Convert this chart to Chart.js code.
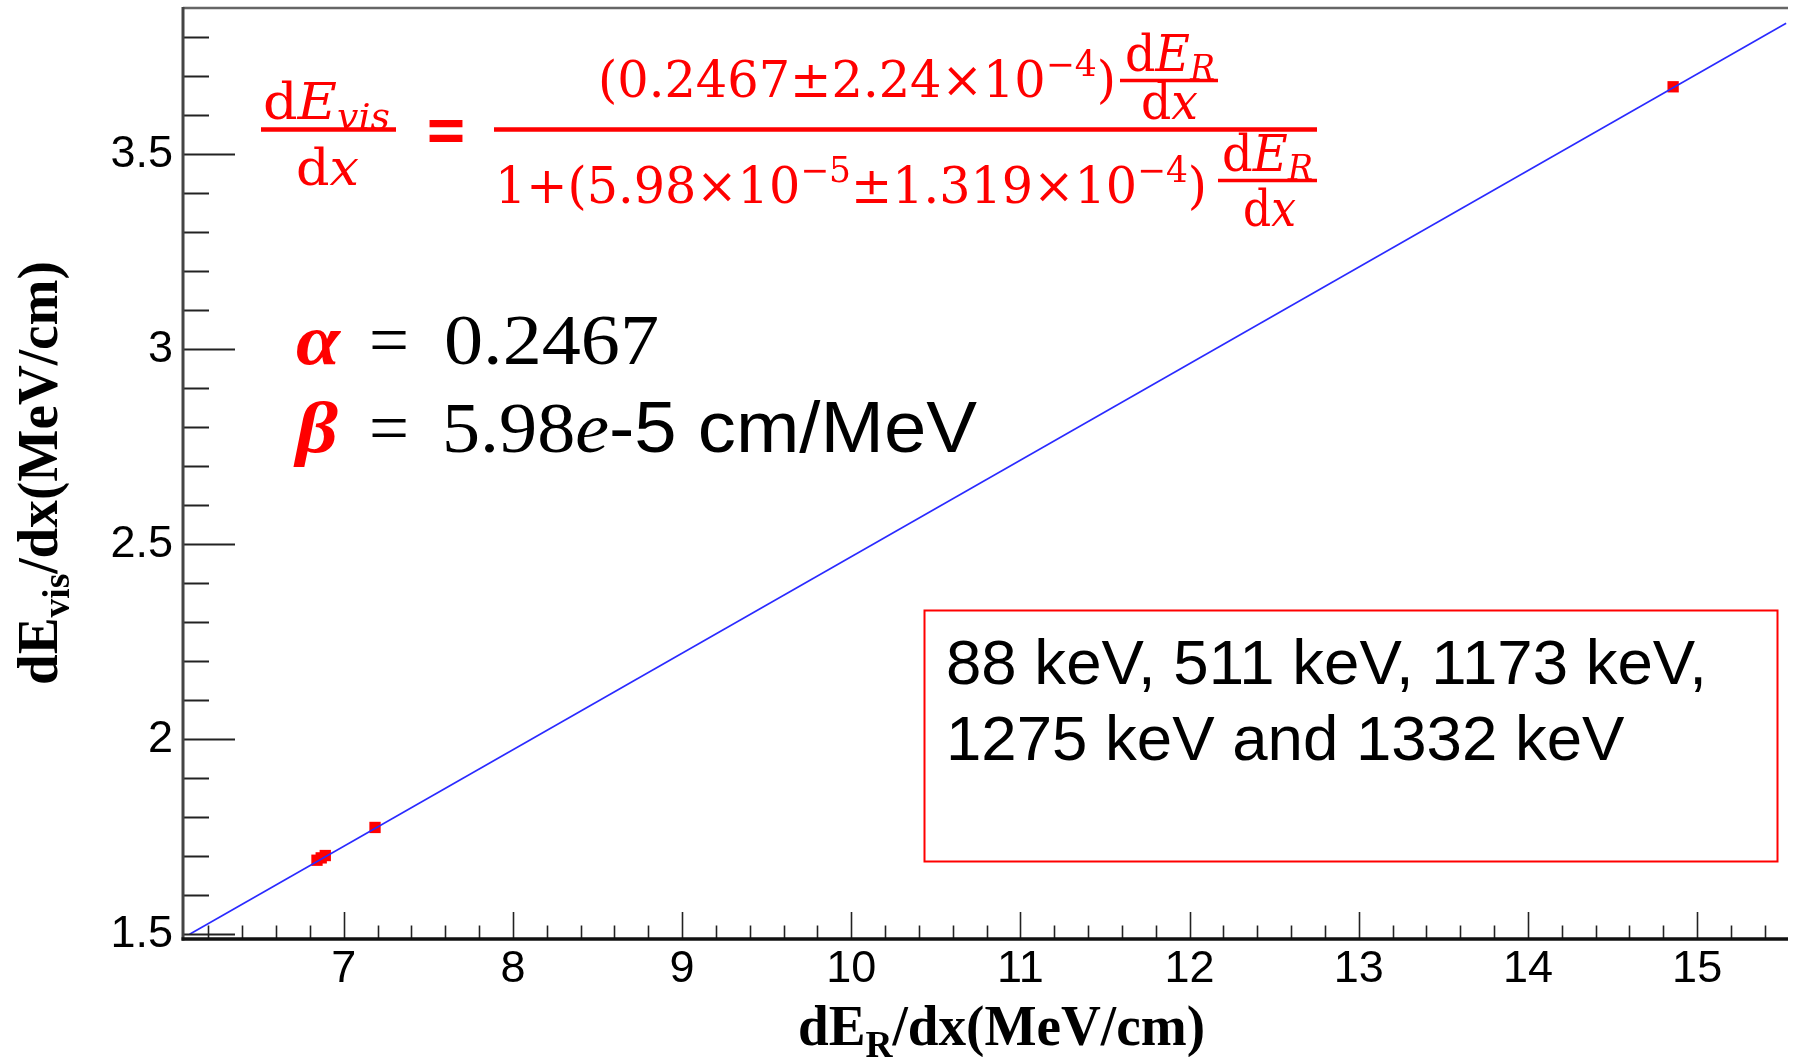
<!DOCTYPE html>
<html>
<head>
<meta charset="utf-8">
<title>Birks fit: dE_vis/dx vs dE_R/dx</title>
<script src="https://cdn.jsdelivr.net/npm/chart.js@4.4.1/dist/chart.umd.min.js"></script>
<style>
  html, body { margin: 0; padding: 0; background: #ffffff; overflow: hidden; }
  #wrap { position: relative; width: 1796px; height: 1057px; }
  canvas { display: block; }
</style>
</head>
<body>
<div id="wrap"><canvas id="chart" width="1796" height="1057"></canvas></div>
<script>
// Calibration sources and their measured stopping powers (MeV/cm)
const sourceEnergiesKeV = [88, 511, 1173, 1275, 1332];
const dEdxRange = [14.858, 7.185, 6.891, 6.867, 6.842];
const dEdxVisible = [3.673, 1.774, 1.702, 1.696, 1.690];

// Fitted curve, drawn across the plotted range
const fitX = [6.089, 15.526];
const fitY = [1.500, 3.836];

// Axis ranges and ticks
const xRange = [6.050, 15.537];
const yRange = [1.488, 3.875];
const xMajorTicks = [7, 8, 9, 10, 11, 12, 13, 14, 15];
const yMajorTicks = [1.5, 2, 2.5, 3, 3.5];
const xMinorStep = 0.2;
const yMinorStep = 0.1;

const SERIF = '"Liberation Serif", "DejaVu Serif", serif';
const MATH = '"DejaVu Serif", "Liberation Serif", serif';
const SANS = '"Liberation Sans", Arial, "DejaVu Sans", sans-serif';
const RED = '#ff0000';

function stepValues(min, max, step) {
  const out = [];
  for (let k = Math.ceil(min / step - 1e-9); k * step <= max + 1e-9; k++) {
    out.push(+(k * step).toFixed(6));
  }
  return out;
}
function isMajor(v, majors) {
  return majors.some(m => Math.abs(m - v) < 1e-6);
}

// Draws a row of text runs; optionally squeezes the row to a given width
function drawRuns(ctx, runs, x, baseline, targetWidth, color) {
  let total = 0;
  runs.forEach(r => {
    ctx.font = r.font;
    r.w = ctx.measureText(r.t).width;
    total += r.w;
  });
  const sx = targetWidth ? targetWidth / total : 1;
  ctx.save();
  ctx.translate(x, baseline);
  ctx.scale(sx, 1);
  ctx.textBaseline = 'alphabetic';
  ctx.textAlign = 'left';
  let cx = 0;
  runs.forEach(r => {
    ctx.font = r.font;
    ctx.fillStyle = r.color || color || '#000';
    ctx.fillText(r.t, cx, r.dy || 0);
    cx += r.w;
  });
  ctx.restore();
  return sx;
}

function hBar(ctx, x0, x1, y, w, color) {
  ctx.save();
  ctx.fillStyle = color;
  ctx.fillRect(x0, y - w / 2, x1 - x0, w);
  ctx.restore();
}

// Frame, inside tick marks and axis lines
const framePlugin = {
  id: 'frame',
  afterDatasetsDraw(chart) {
    const { ctx, chartArea: a, scales: { x, y } } = chart;
    ctx.save();
    // ticks on the y axis (pointing right)
    ctx.strokeStyle = '#222';
    ctx.lineWidth = 2;
    stepValues(yRange[0], yRange[1], yMinorStep).forEach(v => {
      const py = Math.round(y.getPixelForValue(v)) + 0.5;
      const len = isMajor(v, yMajorTicks) ? 52 : 26;
      ctx.beginPath();
      ctx.moveTo(a.left, py);
      ctx.lineTo(a.left + len, py);
      ctx.stroke();
    });
    // ticks on the x axis (pointing up)
    ctx.lineWidth = 1.6;
    stepValues(xRange[0], xRange[1], xMinorStep).forEach(v => {
      const px = Math.round(x.getPixelForValue(v)) + 0.5;
      const len = isMajor(v, xMajorTicks) ? 27 : 13.5;
      ctx.beginPath();
      ctx.moveTo(px, a.bottom);
      ctx.lineTo(px, a.bottom - len);
      ctx.stroke();
    });
    // top frame line
    ctx.strokeStyle = '#666';
    ctx.lineWidth = 2.5;
    ctx.beginPath();
    ctx.moveTo(a.left, a.top);
    ctx.lineTo(a.right, a.top);
    ctx.stroke();
    // left axis
    ctx.strokeStyle = '#444';
    ctx.lineWidth = 3;
    ctx.beginPath();
    ctx.moveTo(a.left, a.top - 1);
    ctx.lineTo(a.left, a.bottom + 1.5);
    ctx.stroke();
    // bottom axis
    ctx.strokeStyle = '#111';
    ctx.lineWidth = 3.5;
    ctx.beginPath();
    ctx.moveTo(a.left - 1.5, a.bottom);
    ctx.lineTo(a.right, a.bottom);
    ctx.stroke();
    ctx.restore();
  }
};

// Axis titles, fit formula, parameters and the source list box
const annotationPlugin = {
  id: 'annotations',
  afterDraw(chart) {
    const ctx = chart.ctx;

    // x axis title
    drawRuns(ctx, [
      { t: 'dE', font: `bold 56px ${SERIF}` },
      { t: 'R', font: `bold 38px ${SERIF}`, dy: 12 },
      { t: '/dx(MeV/cm)', font: `bold 56px ${SERIF}` }
    ], 798, 1045, 407, '#000');

    // y axis title, reading upward
    ctx.save();
    ctx.translate(57, 685);
    ctx.rotate(-Math.PI / 2);
    drawRuns(ctx, [
      { t: 'dE', font: `bold 56px ${SERIF}` },
      { t: 'vis', font: `bold 38px ${SERIF}`, dy: 12 },
      { t: '/dx(MeV/cm)', font: `bold 56px ${SERIF}` }
    ], 0, 0, 424, '#000');
    ctx.restore();

    // Birks formula
    const F = 50, S = 35;
    drawRuns(ctx, [
      { t: 'd', font: `${F}px ${MATH}` },
      { t: 'E', font: `italic ${F}px ${MATH}` },
      { t: 'vis', font: `italic ${S}px ${MATH}`, dy: 10 }
    ], 263, 119, 127, RED);
    hBar(ctx, 261, 396, 129.5, 4.5, RED);
    drawRuns(ctx, [
      { t: 'd', font: `${F}px ${MATH}` },
      { t: 'x', font: `italic ${F}px ${MATH}` }
    ], 296, 185, 63, RED);
    drawRuns(ctx, [{ t: '=', font: `bold 66px ${MATH}` }], 424, 152, 44, RED);
    hBar(ctx, 494, 1317, 129.5, 4.5, RED);

    drawRuns(ctx, [
      { t: '(0.2467\u00b12.24\u00d710', font: `${F}px ${MATH}` },
      { t: '\u22124', font: `${S}px ${MATH}`, dy: -21 },
      { t: ')', font: `${F}px ${MATH}` }
    ], 598, 97, 518, RED);
    drawRuns(ctx, [
      { t: 'd', font: `${F}px ${MATH}` },
      { t: 'E', font: `italic ${F}px ${MATH}` },
      { t: 'R', font: `italic ${S}px ${MATH}`, dy: 9 }
    ], 1125, 71, 90, RED);
    hBar(ctx, 1120, 1218, 80.5, 3.5, RED);
    drawRuns(ctx, [
      { t: 'd', font: `${F}px ${MATH}` },
      { t: 'x', font: `italic ${F}px ${MATH}` }
    ], 1141, 119, 57, RED);

    drawRuns(ctx, [
      { t: '1+(5.98\u00d710', font: `${F}px ${MATH}` },
      { t: '\u22125', font: `${S}px ${MATH}`, dy: -21 },
      { t: '\u00b11.319\u00d710', font: `${F}px ${MATH}` },
      { t: '\u22124', font: `${S}px ${MATH}`, dy: -21 },
      { t: ')', font: `${F}px ${MATH}` }
    ], 495, 203, 712, RED);
    drawRuns(ctx, [
      { t: 'd', font: `${F}px ${MATH}` },
      { t: 'E', font: `italic ${F}px ${MATH}` },
      { t: 'R', font: `italic ${S}px ${MATH}`, dy: 9 }
    ], 1222, 171, 91, RED);
    hBar(ctx, 1218, 1317, 180.5, 3.5, RED);
    drawRuns(ctx, [
      { t: 'd', font: `${F}px ${MATH}` },
      { t: 'x', font: `italic ${F}px ${MATH}` }
    ], 1243, 226, 53, RED);

    // fit parameters
    const P = 72;
    drawRuns(ctx, [{ t: '\u03b1', font: `bold italic ${P}px ${SERIF}` }], 296, 364, 44, RED);
    drawRuns(ctx, [{ t: '=', font: `${P}px ${SERIF}` }], 369, 364, 40, '#000');
    drawRuns(ctx, [{ t: '0.2467', font: `${P}px ${SERIF}` }], 444, 364, 215, '#000');
    drawRuns(ctx, [{ t: '\u03b2', font: `bold italic ${P}px ${SERIF}` }], 296, 452, 42, RED);
    drawRuns(ctx, [{ t: '=', font: `${P}px ${SERIF}` }], 369, 452, 40, '#000');
    drawRuns(ctx, [
      { t: '5.98', font: `${P}px ${SERIF}` },
      { t: 'e', font: `italic ${P}px ${SERIF}` },
      { t: '-5 cm/MeV', font: `${P}px ${SANS}` }
    ], 442, 452, 535, '#000');

    // source list box
    ctx.save();
    ctx.strokeStyle = RED;
    ctx.lineWidth = 2;
    ctx.strokeRect(924.5, 610.5, 853, 251);
    ctx.restore();
    const sx = drawRuns(ctx, [{ t: '88 keV, 511 keV, 1173 keV,', font: `63px ${SANS}` }], 946, 684, 761, '#000');
    ctx.save();
    ctx.translate(946, 760);
    ctx.scale(sx, 1);
    ctx.font = `63px ${SANS}`;
    ctx.fillStyle = '#000';
    ctx.fillText('1275 keV and 1332 keV', 0, 0);
    ctx.restore();
  }
};

const ctx = document.getElementById('chart').getContext('2d');
new Chart(ctx, {
  type: 'scatter',
  data: {
    datasets: [
      {
        label: 'fit',
        data: fitX.map((v, i) => ({ x: v, y: fitY[i] })),
        showLine: true,
        borderColor: '#2a2aff',
        borderWidth: 1.6,
        pointRadius: 0,
        fill: false
      },
      {
        label: 'data',
        data: dEdxRange.map((v, i) => ({ x: v, y: dEdxVisible[i], e: sourceEnergiesKeV[i] })),
        pointStyle: 'rect',
        pointRadius: 8,
        backgroundColor: RED,
        borderColor: RED,
        borderWidth: 0
      }
    ]
  },
  options: {
    responsive: false,
    devicePixelRatio: 1,
    animation: false,
    layout: { padding: { top: 7, left: 0, right: 0, bottom: 0 } },
    plugins: { legend: { display: false }, tooltip: { enabled: false } },
    scales: {
      x: {
        type: 'linear',
        min: xRange[0],
        max: xRange[1],
        grid: { display: false, drawTicks: false },
        border: { display: false },
        afterBuildTicks: s => { s.ticks = xMajorTicks.map(v => ({ value: v })); },
        afterFit: s => { s.height = 118; s.paddingLeft = 0; s.paddingRight = 0; },
        ticks: {
          padding: 4,
          maxRotation: 0,
          color: '#000',
          font: { family: SANS, size: 45 },
          callback: v => String(v)
        }
      },
      y: {
        type: 'linear',
        min: yRange[0],
        max: yRange[1],
        grid: { display: false, drawTicks: false },
        border: { display: false },
        afterBuildTicks: s => { s.ticks = yMajorTicks.map(v => ({ value: v })); },
        afterFit: s => { s.width = 183; s.paddingTop = 0; s.paddingBottom = 0; },
        ticks: {
          padding: 10,
          color: '#000',
          font: { family: SANS, size: 45 },
          callback: v => String(v)
        }
      }
    }
  },
  plugins: [framePlugin, annotationPlugin]
});
</script>
</body>
</html>
